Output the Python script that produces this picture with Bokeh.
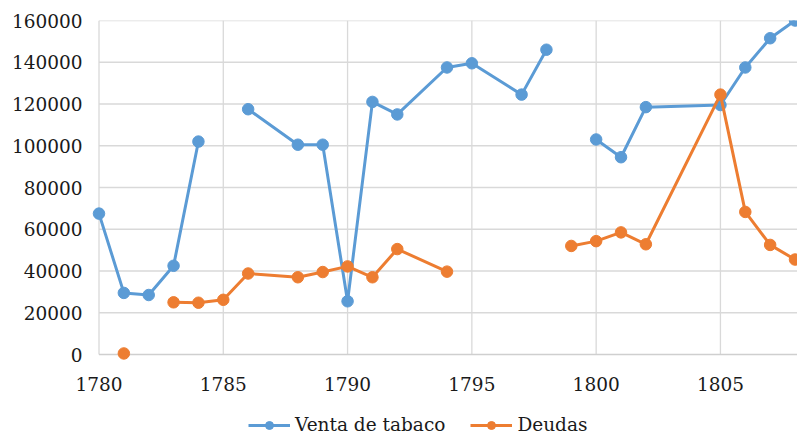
import numpy as np
from bokeh.plotting import figure
from bokeh.models import (Range1d, FixedTicker, Legend, LegendItem, ColumnDataSource,
                          BasicTickFormatter)
from bokeh.core.properties import value
from bokeh.embed import file_html
from bokeh.resources import INLINE

years = [1780, 1781, 1782, 1783, 1784, 1785, 1786, 1788, 1789, 1790, 1791, 1792,
         1794, 1795, 1797, 1798, 1799, 1800, 1801, 1802, 1805, 1806, 1807, 1808]
venta = [67500, 29500, 28500, 42500, 102000, None, 117500, 100500, 100500, 25500, 121000, 115000,
         137500, 139500, 124500, 146000, None, 103000, 94500, 118500, 119500, 137500, 151500, 160000]
deudas = [None, 500, None, 25000, 24800, 26200, 38800, 37000, 39500, 42200, 37000, 50500,
          39700, None, None, None, 52000, 54300, 58500, 52800, 124500, 68300, 52500, 45500]
series_names = ["Venta de tabaco", "Deudas"]
x_ticks = [1780, 1785, 1790, 1795, 1800, 1805]
x_tick_labels = [str(t) for t in x_ticks]
y_ticks = [0, 20000, 40000, 60000, 80000, 100000, 120000, 140000, 160000]

BLUE = "#5B9BD5"
ORANGE = "#ED7D31"
GRID = "#d9d9d9"
FONT = "DejaVu Serif"
FS = "18.5px"
TXT = "#1a1a1a"

def arr(v):
    return np.array([np.nan if a is None else a for a in v], dtype=float)

src = ColumnDataSource(dict(x=years, venta=arr(venta), deudas=arr(deudas)))

# plot area: 160000 at 20px, 0 at 354px; frame extends to the bottom to hold the legend
y_top = 160000.01
y_bottom = -(435 - 354) * 160000 / 334
x_start, x_end = 1779.095, 1808.1
p = figure(width=797, height=435, frame_width=721, frame_height=415,
           output_backend="svg", toolbar_location=None,
           x_range=Range1d(x_start, x_end), y_range=Range1d(y_bottom, y_top),
           min_border_left=76, min_border_right=0, min_border_top=20, min_border_bottom=0)
p.outline_line_color = None
p.background_fill_color = "white"
p.border_fill_color = "white"
p.title.visible = False
p.xgrid.visible = False
p.ygrid.visible = False
p.xaxis.visible = False

# gridlines (limited to the value area)
gy = [t for t in y_ticks if t > 0]
p.segment(x0=[1780] * len(gy), x1=[x_end] * len(gy), y0=gy, y1=gy,
          line_color=GRID, line_width=1.3)
p.segment(x0=x_ticks, x1=x_ticks, y0=[0] * len(x_ticks), y1=[160000] * len(x_ticks),
          line_color=GRID, line_width=1.3)
# category (x) axis line and its labels
p.segment(x0=[1780], x1=[x_end], y0=[0], y1=[0], line_color="#cfcfcf", line_width=1.5)
p.text(x=x_ticks, y=[0] * len(x_ticks), text=x_tick_labels, text_align="center",
       text_baseline="middle", y_offset=29, text_font=value(FONT),
       text_font_size=FS, text_color=TXT)

# value axis
p.yaxis.ticker = FixedTicker(ticks=y_ticks)
p.yaxis.formatter = BasicTickFormatter(use_scientific=False)
p.yaxis.major_tick_line_color = None
p.yaxis.minor_tick_line_color = None
p.yaxis.major_tick_out = 0
p.yaxis.major_tick_in = 0
p.yaxis.axis_line_color = None
p.yaxis.major_label_standoff = -6
p.yaxis.major_label_text_font = FONT
p.yaxis.major_label_text_font_size = FS
p.yaxis.major_label_text_color = TXT

l1 = p.line("x", "venta", source=src, line_color=BLUE, line_width=3)
s1 = p.scatter("x", "venta", source=src, size=11.5, fill_color=BLUE, line_color=BLUE)
l2 = p.line("x", "deudas", source=src, line_color=ORANGE, line_width=3)
s2 = p.scatter("x", "deudas", source=src, size=11.5, fill_color=ORANGE, line_color=ORANGE)

legend = Legend(items=[LegendItem(label=series_names[0], renderers=[l1, s1]),
                       LegendItem(label=series_names[1], renderers=[l2, s2])],
                location=(172, 0), orientation="horizontal",
                label_text_font=FONT, label_text_font_size=FS, label_text_color=TXT,
                glyph_width=42, glyph_height=20, label_standoff=5, spacing=25,
                padding=0, margin=0, border_line_color=None, background_fill_alpha=0)
p.add_layout(legend, "center")

open("out.html", "w").write(file_html(p, INLINE))
